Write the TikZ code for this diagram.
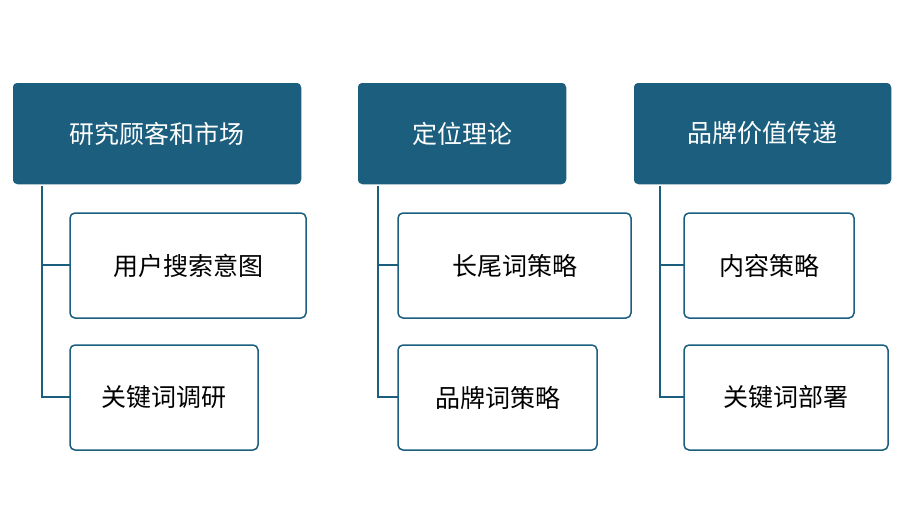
\documentclass[tikz,border=0pt]{standalone}
\usepackage{fontspec}
\setmainfont{Noto Sans CJK SC}
\begin{document}
\begin{tikzpicture}[x=1pt,y=-1pt,
  top/.style={draw=white,line width=1.5pt,fill=teal0,rounded corners=5pt,text=white,font=\fontsize{25}{28}\selectfont},
  sub/.style={draw=teal0,line width=1.5pt,fill=white,rounded corners=5pt,text=black,font=\fontsize{25}{28}\selectfont},
  conn/.style={draw=teal0,line width=1.5pt}]
\definecolor{teal0}{HTML}{1B5E7E}
\useasboundingbox (0,0) rectangle (900,531);
\fill[white] (0,0) rectangle (900,531);
\def\mk#1#2#3#4#5#6{\path[#6] (#1,#2) rectangle (#3,#4); \node[#6,draw=none,fill=none] (#5) at ({(#1+#3)/2},{(#2+#4)/2}) {};}
% top boxes
\path[top] (12,82) rectangle (302,185) node[midway,draw=none,fill=none] (t1) {研究顾客和市场};
\path[top] (357,82) rectangle (567,185) node[midway,draw=none,fill=none] (t2) {定位理论};
\path[top] (633,82) rectangle (892,185) node[midway,draw=none,fill=none] (t3) {品牌价值传递};
% sub boxes
\path[sub] (70,213) rectangle (306,318) node[midway,draw=none,fill=none] (a1) {用户搜索意图};
\path[sub] (70,345) rectangle (258,450) node[midway,draw=none,fill=none] (a2) {关键词调研};
\path[sub] (398,213) rectangle (631,318) node[midway,draw=none,fill=none] (b1) {长尾词策略};
\path[sub] (398,345) rectangle (597,450) node[midway,draw=none,fill=none] (b2) {品牌词策略};
\path[sub] (684,213) rectangle (854,318) node[midway,draw=none,fill=none] (c1) {内容策略};
\path[sub] (684,345) rectangle (888,450) node[midway,draw=none,fill=none] (c2) {关键词部署};
% connectors
\coordinate (p1) at (42,186); \coordinate (q1) at (42,397);
\draw[conn] (p1) -- (q1) -- (70,397);
\draw[conn] (42,265) -- (70,265);
\coordinate (p2) at (378,186); \coordinate (q2) at (378,397);
\draw[conn] (p2) -- (q2) -- (398,397);
\draw[conn] (378,265) -- (398,265);
\coordinate (p3) at (660,186); \coordinate (q3) at (660,397);
\draw[conn] (p3) -- (q3) -- (684,397);
\draw[conn] (660,265) -- (684,265);
\end{tikzpicture}
\end{document}
